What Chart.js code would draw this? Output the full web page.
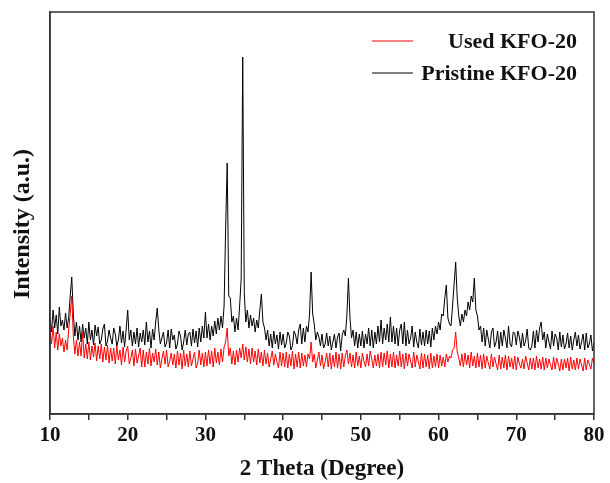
<!DOCTYPE html>
<html>
<head>
<meta charset="utf-8">
<script src="https://cdn.jsdelivr.net/npm/chart.js@4.4.0/dist/chart.umd.min.js"></script>
<style>
  html, body { margin: 0; padding: 0; background: #fff; }
  #wrap { width: 610px; height: 483px; }
</style>
</head>
<body>
<div id="wrap"><canvas id="xrdChart" width="610" height="483"></canvas></div>
<script>
// scan grid: 10 -> 80 deg, step 0.2
var twoTheta = Array.from({length: 351}, (_, i) => Math.round((10 + i * 0.2) * 10) / 10);

// intensity (a.u., 0 = bottom of frame)
var usedKFO = [
  84, 70, 88, 66, 82, 64, 80, 68, 76, 62,
  74, 64, 84, 100, 118, 78, 60, 74, 58, 72,
  58, 82, 56, 70, 55, 72, 54, 68, 57, 71,
  53, 68, 55, 70, 52, 67, 54, 69, 51, 66,
  53, 66, 50, 68, 54, 64, 49, 67, 52, 63,
  68, 50, 56, 64, 48, 65, 51, 58, 66, 47,
  64, 47, 62, 50, 66, 48, 61, 52, 65, 49,
  62, 46, 55, 63, 50, 64, 47, 53, 61, 49,
  60, 46, 63, 49, 61, 45, 64, 48, 60, 47,
  63, 48, 55, 62, 46, 51, 64, 49, 61, 47,
  62, 48, 64, 50, 63, 47, 66, 51, 62, 49,
  65, 52, 67, 72, 86, 58, 66, 50, 63, 49,
  64, 52, 66, 56, 70, 54, 67, 52, 65, 50,
  66, 52, 63, 49, 65, 51, 62, 48, 64, 50,
  61, 47, 55, 63, 49, 60, 52, 46, 62, 48,
  61, 47, 62, 46, 60, 48, 63, 45, 60, 47,
  62, 46, 61, 48, 59, 47, 60, 55, 72, 52,
  60, 46, 54, 62, 48, 59, 45, 52, 61, 47,
  61, 45, 59, 47, 62, 46, 60, 45, 61, 47,
  58, 64, 50, 61, 47, 59, 46, 62, 48, 58,
  46, 61, 53, 47, 60, 48, 63, 55, 46, 59,
  48, 60, 46, 62, 47, 61, 49, 63, 46, 60,
  47, 62, 46, 59, 48, 63, 47, 60, 45, 61,
  48, 60, 53, 46, 62, 47, 59, 52, 45, 61,
  46, 60, 47, 59, 45, 61, 46, 58, 47, 60,
  46, 59, 48, 57, 47, 60, 52, 58, 56, 64,
  66, 82, 62, 56, 48, 60, 47, 61, 49, 59,
  46, 62, 48, 58, 46, 61, 47, 59, 45, 60,
  46, 58, 51, 45, 60, 47, 57, 50, 44, 59,
  45, 57, 46, 59, 44, 58, 47, 56, 45, 58,
  44, 57, 50, 46, 55, 45, 58, 51, 44, 56,
  45, 56, 44, 58, 46, 55, 45, 57, 44, 56,
  46, 55, 49, 44, 57, 45, 56, 50, 43, 55,
  44, 55, 46, 56, 43, 57, 45, 54, 44, 56,
  45, 55, 49, 43, 56, 44, 54, 50, 45, 56,
  50
];

var pristineKFO = [
  96, 82, 104, 86, 99, 80, 107, 88, 94, 84,
  101, 86, 96, 118, 137, 100, 78, 92, 74, 88,
  72, 90, 76, 86, 70, 92, 74, 84, 69, 89,
  78, 87, 70, 74, 85, 90, 68, 73, 84, 76,
  70, 86, 80, 68, 74, 88, 71, 83, 67, 85,
  104, 74, 84, 68, 82, 70, 86, 67, 81, 72,
  84, 69, 92, 72, 83, 66, 85, 74, 92, 106,
  84, 70, 76, 82, 67, 71, 84, 66, 85, 74,
  79, 65, 70, 83, 78, 64, 72, 84, 69, 80,
  82, 68, 85, 71, 83, 67, 86, 72, 88, 76,
  102, 76, 90, 74, 88, 78, 93, 80, 96, 84,
  98, 86, 108, 185, 251, 118, 116, 92, 98, 82,
  96, 84, 108, 135, 357, 120, 92, 104, 86, 99,
  88, 96, 82, 94, 86, 104, 120, 92, 86, 74,
  84, 68, 80, 66, 83, 70, 79, 65, 82, 69,
  80, 66, 71, 82, 78, 64, 68, 83, 79, 70,
  84, 90, 70, 86, 72, 88, 82, 100, 142, 100,
  90, 74, 82, 77, 68, 80, 66, 70, 81, 68,
  78, 64, 72, 80, 66, 77, 81, 63, 79, 84,
  78, 98, 136, 96, 76, 84, 68, 82, 66, 80,
  68, 83, 66, 80, 70, 86, 68, 84, 66, 82,
  70, 88, 72, 94, 70, 86, 74, 90, 72, 97,
  72, 88, 70, 86, 68, 84, 90, 70, 92, 68,
  84, 70, 76, 88, 67, 82, 72, 66, 85, 69,
  82, 68, 84, 70, 83, 67, 86, 74, 88, 80,
  92, 84, 100, 98, 116, 129, 96, 90, 88, 108,
  130, 152, 116, 98, 88, 100, 92, 104, 98, 112,
  104, 118, 112, 136, 104, 98, 84, 88, 72, 86,
  68, 84, 75, 66, 82, 86, 67, 72, 83, 65,
  82, 68, 84, 76, 66, 88, 70, 67, 82, 81,
  69, 83, 77, 66, 81, 68, 73, 85, 66, 64,
  68, 83, 66, 84, 72, 86, 92, 74, 82, 66,
  80, 72, 65, 83, 68, 80, 76, 64, 82, 67,
  79, 65, 70, 81, 66, 78, 64, 74, 82, 68,
  79, 65, 72, 80, 64, 81, 66, 70, 79, 63,
  72
];

var seriesNames = ['Used KFO-20', 'Pristine KFO-20'];
var seriesColors = ['#ff0000', '#000000'];
var xTicks = [10, 20, 30, 40, 50, 60, 70, 80];
var yTitle = 'Intensity (a.u.)';

var serifBold = '"Liberation Serif", "Times New Roman", serif';

function toPoints(vals) {
  return vals.map((v, i) => ({x: twoTheta[i], y: v}));
}

// box round the plot, y title and legend in the top right corner
var framePlugin = {
  id: 'frame',
  afterDraw(chart) {
    var ctx = chart.ctx;
    var a = chart.chartArea;
    ctx.save();
    ctx.strokeStyle = '#333';
    ctx.lineWidth = 1.5;
    ctx.strokeRect(a.left, a.top, a.right - a.left, a.bottom - a.top);

    // y title, a bit below the middle like the original
    ctx.save();
    ctx.translate(23, 224);
    ctx.rotate(-Math.PI / 2);
    ctx.font = 'bold 24px ' + serifBold;
    ctx.fillStyle = '#111';
    ctx.textAlign = 'center';
    ctx.textBaseline = 'middle';
    ctx.fillText(yTitle, 0, 0);
    ctx.restore();

    ctx.font = 'bold 22px ' + serifBold;
    ctx.textAlign = 'right';
    ctx.textBaseline = 'middle';
    chart.data.datasets.forEach(function (ds, i) {
      var y = a.top + 29 + i * 32;
      ctx.strokeStyle = ds.borderColor;
      ctx.lineWidth = 1;
      ctx.beginPath();
      ctx.moveTo(372, y);
      ctx.lineTo(413, y);
      ctx.stroke();
      ctx.fillStyle = '#111';
      ctx.fillText(ds.label, a.right - 17, y + 1);
    });
    ctx.restore();
  }
};

var ctx = document.getElementById('xrdChart').getContext('2d');

new Chart(ctx, {
  type: 'line',
  data: {
    datasets: [{
      label: seriesNames[0],
      data: toPoints(usedKFO),
      borderColor: seriesColors[0],
      borderWidth: 1,
      pointRadius: 0,
      tension: 0
    }, {
      label: seriesNames[1],
      data: toPoints(pristineKFO),
      borderColor: seriesColors[1],
      borderWidth: 1,
      pointRadius: 0,
      tension: 0
    }]
  },
  options: {
    responsive: false,
    animation: false,
    layout: { padding: { top: 12, right: 16, left: 0, bottom: 0 } },
    plugins: {
      legend: { display: false },
      tooltip: { enabled: false }
    },
    scales: {
      x: {
        type: 'linear',
        min: 10,
        max: 80,
        afterFit: function (scale) { scale.height = 69; },
        afterBuildTicks: function (scale) {
          var t = [];
          for (var v = 10; v <= 80; v += 5) t.push({value: v});
          scale.ticks = t;
        },
        ticks: {
          autoSkip: false,
          maxRotation: 0,
          padding: 3,
          color: '#111',
          font: { family: serifBold, size: 21, weight: 'bold' },
          callback: function (v) { return xTicks.indexOf(v) >= 0 ? String(v) : ''; }
        },
        grid: {
          drawOnChartArea: false,
          drawTicks: true,
          tickLength: 6,
          color: '#333',
          lineWidth: 1.5
        },
        border: { display: true, color: '#333', width: 1.5 },
        title: {
          display: true,
          text: '2 Theta (Degree)',
          color: '#111',
          padding: { top: 4, bottom: 0 },
          font: { family: serifBold, size: 23, weight: 'bold' }
        }
      },
      y: {
        min: 0,
        max: 402,
        afterFit: function (scale) { scale.width = 50; },
        ticks: { display: false },
        grid: { display: false },
        border: { display: true, color: '#333', width: 1.5 }
      }
    }
  },
  plugins: [framePlugin]
});
</script>
</body>
</html>
